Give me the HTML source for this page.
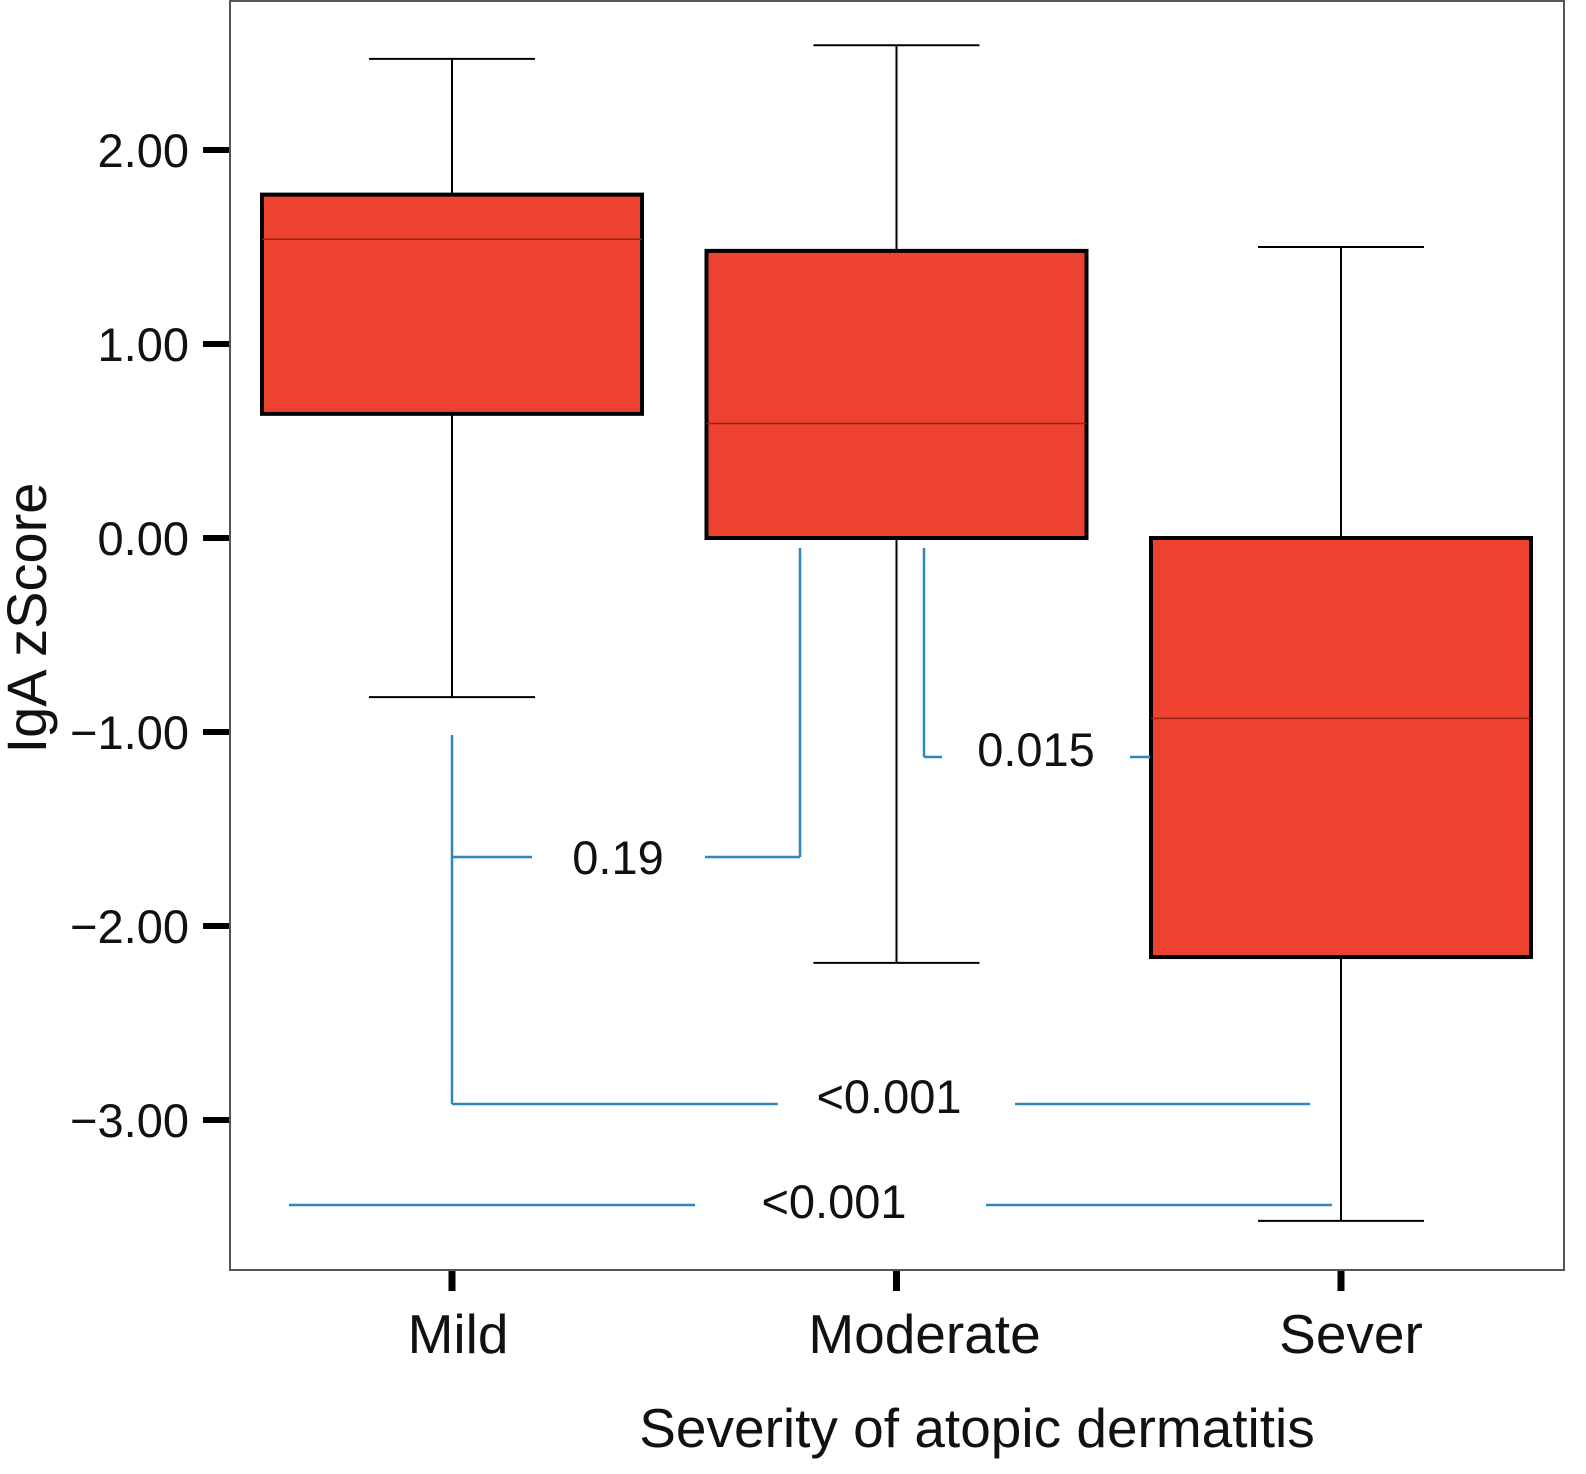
<!DOCTYPE html>
<html><head><meta charset="utf-8"><style>
html,body{margin:0;padding:0;background:#fff;}
svg{display:block;font-family:"Liberation Sans",Arial,sans-serif;}
</style></head><body>
<svg id="chart" width="1586" height="1474" viewBox="0 0 1586 1474" xmlns="http://www.w3.org/2000/svg"></svg>
<script>
const categories = ["Mild", "Moderate", "Sever"];
const whiskerLow = [-0.82, -2.19, -3.52];
const q1Values = [0.64, 0.0, -2.16];
const medianValues = [1.54, 0.59, -0.93];
const q3Values = [1.77, 1.48, 0.0];
const whiskerHigh = [2.47, 2.54, 1.50];
const yTicks = [2, 1, 0, -1, -2, -3];
const yTickLabels = ["2.00", "1.00", "0.00", "\u22121.00", "\u22122.00", "\u22123.00"];

const NS = "http://www.w3.org/2000/svg";
const svg = document.getElementById("chart");
const frame = {l: 230, r: 1564, t: 0, b: 1270};
function y(v){ return 538 - v * 194; }
function x(i){ return 452 + i * 444.5; }
const boxHalf = 190, capHalf = 83;
const labelOffsets = [6, 28, 10];
function el(tag, attrs, parent){
  const e = document.createElementNS(NS, tag);
  for (const k in attrs) e.setAttribute(k, attrs[k]);
  (parent || svg).appendChild(e);
  return e;
}
const blue = "#2f86c0";

const fr = el("rect", {x: frame.l, y: frame.t + 1, width: frame.r - frame.l, height: frame.b - frame.t - 1, fill: "none", stroke: "#555", "stroke-width": 2});



yTicks.forEach((t, i) => {
  const tk = el("line", {x1: 203, x2: 229, y1: y(t), y2: y(t), stroke: "#000", "stroke-width": 6});
  
  
  const lb = el("text", {x: 189, y: y(t) + 17, "text-anchor": "end", "font-size": 47, fill: "#111"});
  lb.textContent = yTickLabels[i];
  
  
});

categories.forEach((c, i) => {
  const cx = x(i);
  const g = el("g", {});
  
  
  el("line", {x1: cx, x2: cx, y1: y(whiskerHigh[i]), y2: y(q3Values[i]), stroke: "#000", "stroke-width": 2}, g);
  el("line", {x1: cx, x2: cx, y1: y(q1Values[i]), y2: y(whiskerLow[i]), stroke: "#000", "stroke-width": 2}, g);
  el("line", {x1: cx - capHalf, x2: cx + capHalf, y1: y(whiskerHigh[i]), y2: y(whiskerHigh[i]), stroke: "#000", "stroke-width": 2}, g);
  el("line", {x1: cx - capHalf, x2: cx + capHalf, y1: y(whiskerLow[i]), y2: y(whiskerLow[i]), stroke: "#000", "stroke-width": 2}, g);
  el("rect", {x: cx - boxHalf, y: y(q3Values[i]), width: boxHalf * 2, height: y(q1Values[i]) - y(q3Values[i]), fill: "#ee4230", stroke: "#000", "stroke-width": 4}, g);
  el("line", {x1: cx - boxHalf, x2: cx + boxHalf, y1: y(medianValues[i]), y2: y(medianValues[i]), stroke: "#9a1f14", "stroke-width": 1.5}, g);
  const tk = el("line", {x1: cx, x2: cx, y1: 1271, y2: 1291, stroke: "#000", "stroke-width": 7});
  
  
  const lb = el("text", {x: cx + labelOffsets[i], y: 1353, "text-anchor": "middle", "font-size": 55, fill: "#111"});
  lb.textContent = c;
  
  
});

function line(x1, y1, x2, y2, name){
  const l = el("line", {x1, y1, x2, y2, stroke: blue, "stroke-width": 2.5});
  
  
}
function txt(s, tx, ty, name){
  const t = el("text", {x: tx, y: ty, "text-anchor": "middle", "font-size": 47, fill: "#111"});
  t.textContent = s;
  
  
}
line(452, 735, 452, 1104, "bracket-mild-line");
line(452, 857, 532, 857, "bracket-019-left");
line(705, 857, 800, 857, "bracket-019-right");
line(800, 548, 800, 857, "bracket-019-vertical");
txt("0.19", 618, 874, "p-value-019");
line(924, 548, 924, 757, "bracket-0015-vertical");
line(924, 757, 942, 757, "bracket-0015-left");
line(1130, 757, 1150, 757, "bracket-0015-right");
txt("0.015", 1036, 766, "p-value-0015");
line(452, 1104, 778, 1104, "bracket-001a-left");
line(1015, 1104, 1310, 1104, "bracket-001a-right");
txt("<0.001", 889, 1113, "p-value-001-mild-sever");
line(289, 1205, 695, 1205, "bracket-001b-left");
line(986, 1205, 1332, 1205, "bracket-001b-right");
txt("<0.001", 834, 1218, "p-value-001-overall");

const yt = el("text", {x: 46, y: 618, "text-anchor": "middle", "font-size": 56, fill: "#111", transform: "rotate(-90 46 618)"});
yt.textContent = "IgA zScore";


const xt = el("text", {x: 977, y: 1447, "text-anchor": "middle", "font-size": 55, fill: "#111"});
xt.textContent = "Severity of atopic dermatitis";


</script>
</body></html>
